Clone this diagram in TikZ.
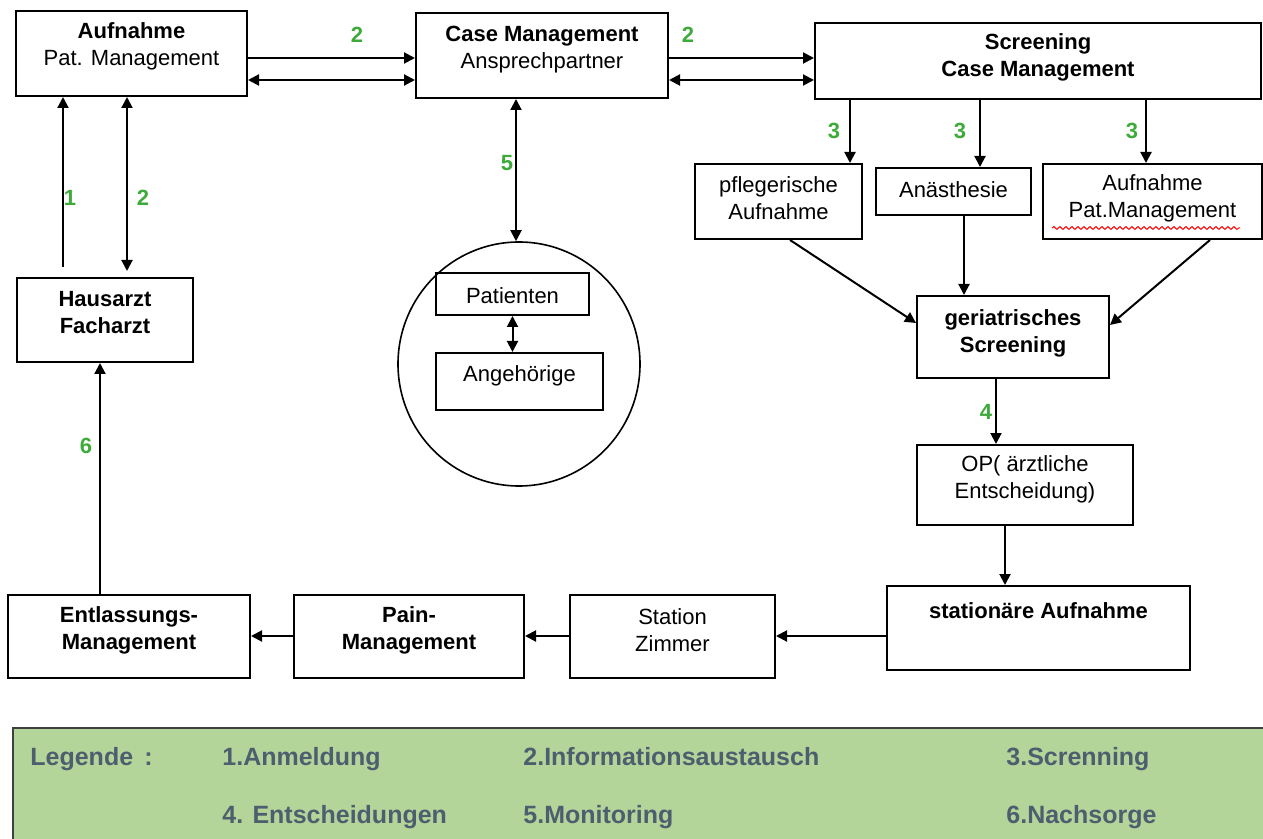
\documentclass[tikz,border=0pt]{standalone}
\usepackage{fontspec}
\setmainfont{Liberation Sans}
\usetikzlibrary{arrows.meta,fit,shapes.geometric,decorations.pathmorphing}
\definecolor{numgreen}{HTML}{3DAA3A}
\definecolor{leggreen}{HTML}{B4D59A}
\definecolor{legtext}{HTML}{4D5E6E}
\begin{document}
\begin{tikzpicture}[x=0.5pt,y=-0.5pt,
  box/.style={draw, line width=1pt, inner sep=0pt, fit={#1}},
  txt/.style={inner sep=0pt, align=center, font=\fontsize{11}{13.5}\selectfont},
  num/.style={inner sep=0pt, text=numgreen, font=\fontsize{11}{13}\selectfont\bfseries},
  legt/.style={inner sep=0pt, anchor=base west, text=legtext, font=\fontsize{12.5}{15}\selectfont\bfseries},
  arr/.style={line width=1pt, -{Triangle[length=5.5pt,width=5.5pt]}},
  darr/.style={line width=1pt, {Triangle[length=5.5pt,width=5.5pt]}-{Triangle[length=5.5pt,width=5.5pt]}}]
\useasboundingbox (0,0) rectangle (1263,839);

% coordinates used for connector positions
\coordinate (y58) at (0,58);
\coordinate (y80) at (0,80);
\coordinate (y636) at (0,636);
\coordinate (x63) at (63,0);
\coordinate (x127) at (127,0);
\coordinate (x100) at (100,0);
\coordinate (x516) at (516,0);
\coordinate (x850) at (850,0);
\coordinate (x980) at (980,0);
\coordinate (x1146) at (1146,0);
\coordinate (x790) at (790,0);
\coordinate (x964) at (964,0);
\coordinate (x1210) at (1210,0);
\coordinate (y323) at (0,323);
\coordinate (y325) at (0,325);
\coordinate (x996) at (996,0);
\coordinate (x1005) at (1005,0);

% boxes
\node[box={(16,11) (247,96)}] (aufn) {};
\node[txt] (aufnT) at (131.5,46) {\textbf{Aufnahme}\\Pat. Management};
\node[box={(416,13) (668,98)}] (case) {};
\node[txt] (caseT) at (542,49.5) {\textbf{Case Management}\\Ansprechpartner};
\node[box={(815,23) (1261,99)}] (scr) {};
\node[txt, font=\fontsize{11}{13.5}\selectfont\bfseries] (scrT) at (1038,57.5) {Screening\\Case Management};
\node[box={(695,164) (862,239)}] (pfl) {};
\node[txt] (pflT) at (778.5,198.5) {pflegerische\\Aufnahme};
\node[box={(876,168) (1031,215)}] (anae) {};
\node[txt] (anaeT) at (953.5,190) {Anästhesie};
\node[box={(1043,164) (1262,239)}] (aufp) {};
\node[txt] (aufpT) at (1152.5,198.5) {Aufnahme\\Pat.Management};
\draw[red, line width=0.5pt, decorate, decoration={snake, amplitude=0.7pt, segment length=3pt}] (1052,228) -- (1240,228);
\node[box={(917,296) (1109,378)}] (ger) {};
\node[txt, font=\fontsize{11}{13.5}\selectfont\bfseries] (gerT) at (1013,333.5) {geriatrisches\\Screening};
\node[box={(917,445) (1133,525)}] (op) {};
\node[txt] (opT) at (1025,479.5) {OP( ärztliche\\Entscheidung)};
\node[box={(887,586) (1190,670)}] (stat) {};
\node[txt, font=\fontsize{11}{13.5}\selectfont\bfseries] (statT) at (1038.5,611) {stationäre Aufnahme};
\node[box={(570,595) (775,678)}] (stz) {};
\node[txt] (stzT) at (672.5,630.5) {Station\\Zimmer};
\node[box={(294,595) (524,678)}] (pain) {};
\node[txt, font=\fontsize{11}{13.5}\selectfont\bfseries] (painT) at (409,630.5) {Pain-\\Management};
\node[box={(8,595) (250,678)}] (entl) {};
\node[txt, font=\fontsize{11}{13.5}\selectfont\bfseries] (entlT) at (129,630.5) {Entlassungs-\\Management};
\node[box={(17,278) (193,362)}] (haus) {};
\node[txt, font=\fontsize{11}{13.5}\selectfont\bfseries] (hausT) at (105,313) {Hausarzt\\Facharzt};
\node[draw, line width=0.8pt, ellipse, minimum width=121pt, minimum height=122pt, inner sep=0pt] (ell) at (519,364) {};
\node[box={(436,273) (589,315)}] (pat) {};
\node[txt] (patT) at (512.5,296) {Patienten};
\node[box={(436,353) (603,410)}] (ang) {};
\node[txt] (angT) at (519.5,376) {Angehörige};

% connectors
\draw[arr] (aufn.east |- y58) -- (case.west |- y58);
\draw[darr] (aufn.east |- y80) -- (case.west |- y80);
\draw[arr] (case.east |- y58) -- (scr.west |- y58);
\draw[darr] (case.east |- y80) -- (scr.west |- y80);
\draw[arr] (scr.south -| x850) -- (pfl.north -| x850);
\draw[arr] (scr.south -| x980) -- (anae.north -| x980);
\draw[arr] (scr.south -| x1146) -- (aufp.north -| x1146);
\draw[arr] (pfl.south -| x790) -- (ger.west |- y323);
\draw[arr] (anae.south -| x964) -- (ger.north -| x964);
\draw[arr] (aufp.south -| x1210) -- (ger.east |- y325);
\draw[arr] (ger.south -| x996) -- (op.north -| x996);
\draw[arr] (op.south -| x1005) -- (stat.north -| x1005);
\draw[arr] (stat.west |- y636) -- (stz.east |- y636);
\draw[arr] (stz.west |- y636) -- (pain.east |- y636);
\draw[arr] (pain.west |- y636) -- (entl.east |- y636);
\draw[arr] (entl.north -| x100) -- (haus.south -| x100);
\draw[arr] ([yshift=5pt]haus.north -| x63) -- (aufn.south -| x63);
\draw[darr] ([yshift=3pt]haus.north -| x127) -- (aufn.south -| x127);
\draw[darr] (case.south -| x516) -- (ell.north -| x516);
\draw[darr] (pat.south) -- (pat.south |- ang.north);

% green labels
\node[num] (n2a) at (357,35) {2};
\node[num] (n2b) at (688,35) {2};
\node[num] (n3a) at (834,131) {3};
\node[num] (n3b) at (960,131) {3};
\node[num] (n3c) at (1132,131) {3};
\node[num] (n5) at (507,163) {5};
\node[num] (n1) at (70,198) {1};
\node[num] (n2c) at (143,198) {2};
\node[num] (n4) at (986,412) {4};
\node[num] (n6) at (86,446) {6};

% legend
\node[draw=black!75, line width=0.8pt, fill=leggreen, inner sep=0pt, fit={(13,728) (1275,850)}] (leg) {};
\node[legt] (l0) at (30,765) {Legende \,:};
\node[legt] (l1) at (222,765) {1.Anmeldung};
\node[legt] (l2) at (523,765) {2.Informationsaustausch};
\node[legt] (l3) at (1006,765) {3.Screnning};
\node[legt] (l4) at (222,823) {4. Entscheidungen};
\node[legt] (l5) at (523,823) {5.Monitoring};
\node[legt] (l6) at (1006,823) {6.Nachsorge};
\end{tikzpicture}
\end{document}
